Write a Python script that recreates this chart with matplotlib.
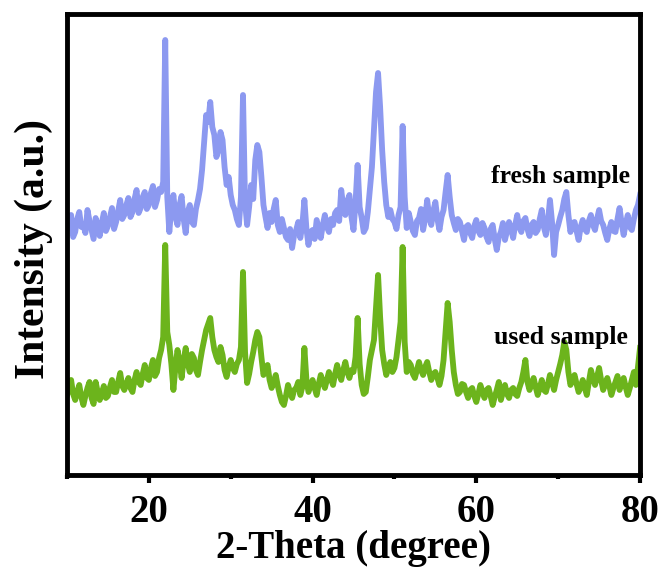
import numpy as np
import matplotlib
matplotlib.use("Agg")
import matplotlib.pyplot as plt
from matplotlib.ticker import MultipleLocator

plt.rcParams['font.family'] = ['Liberation Serif', 'DejaVu Serif']
plt.rcParams['font.weight'] = 'bold'

# XRD scan, 0.25 degree step
start, stop, step = 10.0, 80.0, 0.25
two_theta = np.arange(start, stop + step / 2, step)

# fresh sample, raw intensity (a.u.), 20 points per row = 5 degrees
fresh = [89, 95, 102, 80, 85, 98, 105, 90, 92, 84, 107, 96, 87, 78, 99, 92, 81, 94, 104, 86,
         91, 100, 109, 88, 95, 106, 117, 98, 102, 112, 119, 100, 105, 118, 127, 104, 109, 120, 125, 108,
         112, 124, 131, 110, 117, 128, 125, 135, 277, 120, 85, 110, 122, 100, 92, 112, 121, 98, 84, 105,
         112, 95, 92, 108, 117, 128, 147, 175, 202, 195, 215, 190, 182, 160, 167, 185, 177, 150, 132, 140,
         122, 112, 107, 98, 92, 120, 222, 115, 92, 110, 132, 118, 157, 172, 165, 140, 112, 100, 89, 104,
         95, 108, 117, 92, 85, 98, 89, 80, 77, 88, 69, 82, 87, 95, 79, 92, 117, 88, 72, 85,
         87, 78, 97, 88, 79, 92, 102, 90, 85, 98, 92, 104, 107, 96, 127, 110, 102, 116, 122, 100,
         87, 115, 152, 110, 99, 85, 89, 105, 127, 150, 187, 225, 244, 210, 167, 135, 112, 100, 107, 98,
         95, 88, 102, 110, 191, 120, 89, 104, 95, 86, 82, 96, 99, 108, 87, 98, 117, 100, 92, 106,
         115, 98, 87, 100, 107, 125, 142, 120, 102, 94, 87, 98, 95, 86, 77, 90, 92, 84, 79, 91,
         97, 86, 82, 94, 89, 80, 75, 88, 92, 78, 67, 80, 85, 94, 77, 86, 95, 88, 79, 92,
         102, 90, 85, 96, 99, 88, 81, 92, 95, 84, 87, 98, 107, 90, 82, 96, 117, 95, 62, 85,
         92, 100, 107, 118, 125, 102, 85, 94, 95, 86, 77, 90, 97, 88, 85, 96, 102, 92, 87, 98,
         107, 96, 92, 84, 77, 88, 95, 86, 85, 98, 109, 94, 82, 93, 102, 90, 87, 98, 107, 112,
         122]

# used sample, raw intensity (a.u.)
used = [87, 94, 102, 88, 82, 90, 97, 85, 77, 86, 94, 100, 84, 78, 100, 90, 82, 89, 96, 84,
        86, 95, 102, 90, 90, 100, 109, 96, 92, 98, 104, 94, 90, 102, 110, 100, 97, 108, 117, 104,
        102, 114, 122, 106, 110, 124, 132, 145, 237, 150, 137, 118, 92, 115, 132, 120, 104, 122, 134, 118,
        110, 128, 124, 112, 107, 120, 132, 142, 152, 158, 164, 145, 132, 125, 120, 135, 127, 112, 105, 115,
        122, 114, 110, 118, 122, 135, 210, 130, 99, 108, 120, 130, 142, 150, 145, 125, 107, 112, 117, 102,
        94, 100, 107, 96, 87, 80, 77, 86, 97, 90, 84, 92, 94, 100, 87, 95, 134, 102, 90, 96,
        102, 94, 87, 98, 107, 100, 94, 102, 110, 103, 97, 108, 117, 108, 102, 112, 120, 110, 104, 112,
        110, 125, 164, 118, 97, 88, 90, 105, 122, 132, 142, 175, 207, 165, 132, 118, 107, 114, 120, 110,
        114, 125, 142, 160, 235, 140, 110, 120, 117, 108, 104, 112, 120, 112, 107, 115, 120, 110, 102, 108,
        110, 104, 97, 106, 122, 150, 179, 160, 132, 110, 97, 88, 90, 98, 97, 90, 84, 92, 94, 86,
        80, 88, 97, 90, 84, 92, 94, 86, 77, 85, 92, 100, 82, 90, 97, 88, 84, 92, 94, 88,
        86, 94, 100, 110, 122, 100, 92, 98, 104, 95, 87, 94, 102, 92, 90, 98, 107, 100, 92, 102,
        110, 118, 127, 140, 132, 110, 97, 102, 107, 98, 90, 95, 102, 94, 87, 100, 112, 104, 97, 105,
        114, 102, 92, 98, 104, 96, 87, 94, 100, 106, 92, 98, 104, 95, 87, 94, 102, 110, 97, 115,
        134]

fresh_offset = 165

fig = plt.figure(figsize=(6.62, 5.67), dpi=100)
ax = fig.add_axes([0.1012, 0.1623, 0.8656, 0.8130])

ax.plot(two_theta, np.array(fresh) + fresh_offset, color='#8c99f0', lw=4.2)
ax.plot(two_theta, used, color='#6cb41c', lw=4.2)

ax.text(78.8, 305, 'fresh sample', ha='right', va='center', fontsize=18.5, fontweight='bold')
ax.text(78.5, 144, 'used sample', ha='right', va='center', fontsize=18.5, fontweight='bold')

ax.set_xlim(10, 80)
ax.set_ylim(7, 468)
ax.xaxis.set_major_locator(MultipleLocator(20))
ax.xaxis.set_minor_locator(MultipleLocator(10))
ax.tick_params(axis='x', which='major', direction='out', length=6, width=3,
               labelsize=28, pad=8)
ax.tick_params(axis='x', which='minor', direction='out', length=3, width=3)
ax.set_yticks([])
for s in ax.spines.values():
    s.set_linewidth(3.5)

ax.set_xlabel('2-Theta (degree)', fontsize=28, fontweight='bold')
ax.set_ylabel('Intensity (a.u.)', fontsize=30, fontweight='bold')
ax.xaxis.set_label_coords(0.5, -0.12)
ax.yaxis.set_label_coords(-0.024, 0.49)

fig.savefig('out.png', dpi=100)
